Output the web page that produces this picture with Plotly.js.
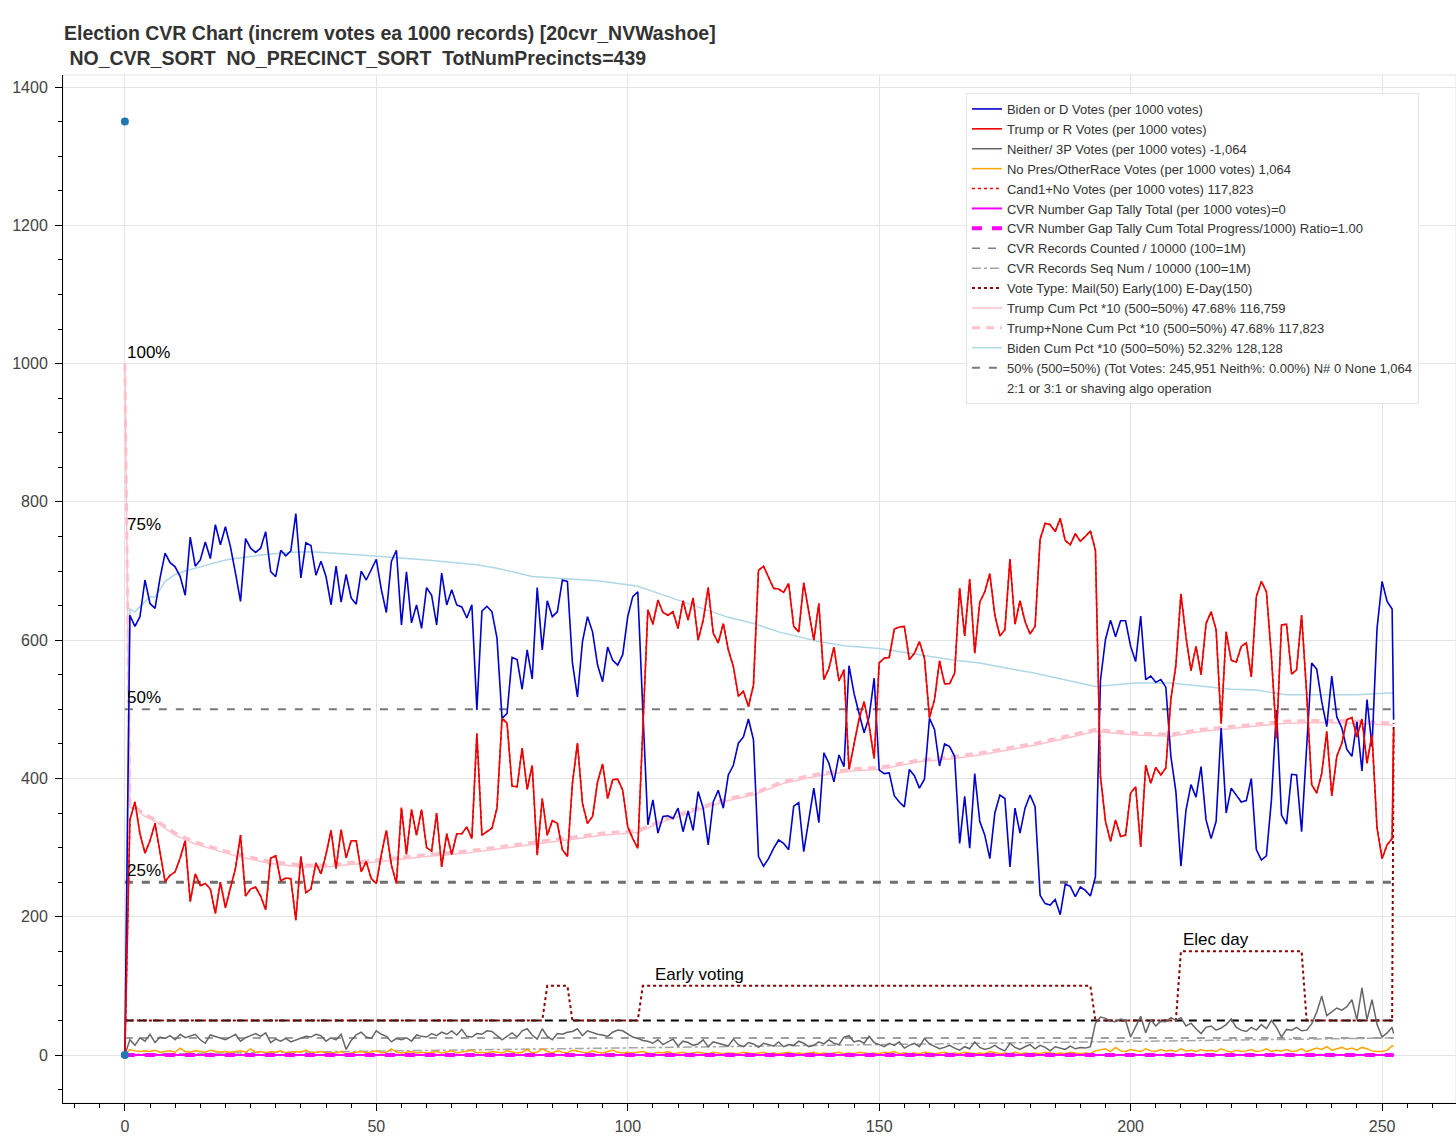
<!DOCTYPE html>
<html>
<head>
<meta charset="utf-8">
<script src="https://cdn.plot.ly/plotly-3.0.1.min.js"></script>
<style>
  html, body { margin: 0; padding: 0; background: #fff; }
  #chart { width: 1456px; height: 1139px; }
</style>
</head>
<body>
<div id="chart"></div>
<script>
// chunk index (one point per 1000 records); the last chunk is a partial one
const chunkIdx = Array.from({ length: 253 }, (_, i) => i).concat([252.3]);

const bidenVotes = [
  0, 636, 620, 634, 687, 653, 646, 690, 726, 712,
  706, 692, 665, 749, 707, 716, 742, 718, 767, 738,
  764, 735, 697, 656, 747, 733, 727, 733, 757, 699,
  692, 730, 722, 729, 783, 690, 741, 737, 694, 714,
  692, 651, 707, 655, 695, 661, 652, 700, 687, 701,
  717, 673, 640, 714, 730, 622, 699, 625, 651, 617,
  676, 665, 622, 697, 651, 673, 651, 648, 632, 651,
  499, 642, 649, 641, 603, 487, 494, 575, 572, 529,
  586, 544, 676, 586, 657, 634, 641, 687, 685, 567,
  518, 598, 634, 612, 564, 540, 590, 571, 564, 579,
  634, 663, 670, 499, 333, 369, 321, 345, 346, 342,
  357, 323, 353, 325, 381, 357, 304, 366, 383, 357,
  405, 419, 451, 460, 486, 456, 287, 273, 284, 299,
  311, 306, 297, 360, 365, 294, 340, 386, 336, 437,
  422, 395, 434, 417, 563, 523, 494, 466, 489, 545,
  412, 407, 408, 375, 366, 359, 413, 404, 386, 399,
  487, 471, 418, 450, 446, 432, 306, 374, 299, 407,
  338, 318, 284, 350, 376, 371, 272, 357, 321, 357,
  376, 359, 231, 219, 217, 225, 203, 247, 244, 229,
  243, 238, 230, 258, 542, 601, 629, 605, 628, 628,
  591, 569, 635, 543, 548, 539, 543, 532, 432, 381,
  273, 354, 391, 373, 417, 340, 313, 338, 473, 350,
  386, 376, 366, 368, 400, 297, 282, 288, 369, 499,
  347, 334, 406, 405, 323, 445, 567, 558, 511, 475,
  548, 489, 473, 442, 432, 482, 411, 514, 446, 617,
  685, 656, 645, 485
];

const trumpVotes = [
  0, 340, 366, 320, 292, 310, 335, 290, 251, 260,
  265, 285, 310, 222, 262, 245, 248, 240, 205, 250,
  213, 242, 270, 318, 230, 240, 243, 230, 210, 285,
  288, 252, 256, 255, 195, 287, 235, 240, 278, 262,
  290, 325, 270, 326, 285, 310, 310, 265, 280, 255,
  248, 290, 325, 275, 248, 358, 290, 355, 318, 355,
  300, 295, 350, 272, 320, 290, 320, 320, 330, 313,
  465, 318, 323, 328, 357, 487, 480, 389, 388, 444,
  384, 419, 289, 371, 318, 339, 335, 297, 287, 393,
  451, 364, 335, 345, 395, 421, 371, 398, 399, 383,
  330, 313, 299, 480, 644, 623, 658, 640, 636, 641,
  617, 657, 629, 661, 600, 629, 676, 610, 596, 624,
  586, 562, 519, 526, 504, 535, 701, 707, 691, 675,
  674, 669, 682, 620, 612, 683, 641, 600, 653, 543,
  559, 590, 541, 557, 413, 451, 486, 511, 476, 429,
  567, 574, 575, 616, 619, 620, 572, 581, 598, 574,
  488, 514, 570, 537, 537, 552, 675, 606, 688, 581,
  655, 670, 696, 636, 606, 615, 717, 623, 657, 627,
  609, 620, 746, 769, 767, 757, 776, 744, 738, 754,
  743, 750, 758, 730, 403, 338, 309, 340, 316, 318,
  379, 388, 301, 419, 393, 416, 405, 415, 514, 564,
  667, 605, 556, 591, 550, 624, 641, 615, 479, 612,
  571, 568, 591, 596, 547, 663, 685, 670, 576, 458,
  622, 623, 551, 557, 636, 523, 391, 379, 407, 468,
  375, 432, 451, 485, 488, 460, 486, 422, 463, 328,
  284, 304, 313, 470
];

const neitherVotes = [
  0, 22, 14, 25, 20, 30, 18, 26, 24, 28,
  22, 30, 25, 28, 30, 22, 17, 29, 27, 24,
  22, 26, 30, 20, 25, 28, 31, 27, 32, 18,
  23, 20, 24, 19, 22, 25, 27, 26, 30, 28,
  20, 25, 22, 30, 8, 21, 29, 33, 26, 24,
  35, 30, 27, 19, 24, 22, 25, 20, 29, 27,
  26, 31, 28, 33, 30, 35, 29, 37, 27, 26,
  31, 30, 35, 34, 28, 22, 27, 32, 26, 35,
  38, 29, 23, 38, 27, 22, 31, 30, 33, 34,
  38, 28, 35, 32, 30, 29, 27, 33, 36, 35,
  30, 26, 24, 21, 20, 17, 22, 15, 19, 23,
  13, 20, 18, 14, 16, 22, 12, 19, 17, 15,
  13, 23, 15, 12, 18, 16, 11, 17, 15, 13,
  19, 12, 15, 14, 20, 17, 12, 14, 19, 16,
  22, 17, 15, 26, 28, 19, 21, 17, 27, 18,
  15, 12, 17, 14, 19, 10, 14, 17, 12, 24,
  16, 13, 9, 11, 14, 10, 7, 12, 9, 19,
  11, 8, 10, 14, 9, 6, 17, 11, 8, 12,
  15, 9, 14, 11, 6, 12, 10, 8, 13, 9,
  11, 10, 12, 46, 55, 53, 49, 48, 52, 50,
  26, 42, 56, 32, 51, 42, 49, 48, 54, 50,
  54, 42, 46, 38, 31, 40, 42, 36, 39, 44,
  52, 40, 36, 34, 40, 36, 44, 38, 50, 40,
  26, 37, 36, 40, 35, 36, 45, 62, 85, 57,
  62, 68, 65, 70, 80, 51, 97, 51, 80, 44,
  26, 32, 40, 31
];

const noPresVotes = [
  0, 8, 6, 5, 6, 5, 7, 4, 5, 6,
  4, 10, 5, 4, 6, 5, 4, 7, 5, 4,
  5, 4, 5, 6, 4, 9, 4, 5, 3, 5,
  4, 6, 3, 4, 5, 4, 7, 3, 4, 5,
  3, 4, 3, 5, 2, 3, 4, 5, 3, 4,
  6, 3, 4, 9, 4, 3, 4, 5, 3, 4,
  3, 4, 5, 3, 4, 6, 3, 4, 5, 7,
  3, 4, 3, 5, 4, 3, 6, 4, 3, 4,
  8, 3, 4, 9, 5, 3, 6, 4, 3, 7,
  5, 4, 3, 6, 4, 3, 5, 7, 4, 3,
  4, 3, 4, 5, 3, 2, 4, 3, 5, 2,
  3, 4, 2, 3, 4, 3, 2, 4, 3, 2,
  3, 3, 2, 4, 3, 2, 3, 4, 2, 3,
  2, 3, 4, 2, 3, 2, 3, 4, 2, 3,
  2, 3, 4, 2, 3, 2, 4, 3, 2, 3,
  2, 4, 3, 5, 2, 3, 2, 3, 2, 4,
  3, 2, 3, 4, 2, 3, 2, 4, 3, 2,
  3, 2, 5, 3, 2, 3, 2, 4, 2, 3,
  2, 3, 2, 4, 3, 2, 3, 2, 4, 3,
  2, 3, 2, 6, 7, 9, 5, 11, 6, 5,
  8, 7, 5, 9, 6, 5, 8, 6, 7, 5,
  9, 6, 7, 5, 8, 6, 7, 5, 9, 6,
  4, 7, 5, 6, 8, 5, 6, 9, 5, 7,
  6, 8, 5, 6, 9, 5, 7, 10, 8, 12,
  7, 9, 11, 8, 10, 7, 11, 9, 6, 5,
  5, 7, 13, 13
];

// vote type step line: Mail(50) Early(100) E-Day(150)
const voteTypeIdx = [0, 83, 84, 88, 89, 102, 103, 192, 193, 209, 210, 234, 235, 252, 252.3];
const voteTypeVals = [50, 50, 100, 100, 50, 50, 100, 100, 50, 50, 150, 150, 50, 50, 480];

// cumulative percentages *10
const bidenCumIdx = [0, 1, 2, 3, 5, 6, 8, 10, 12, 15, 18, 20, 22, 27, 33, 37, 47, 53, 60, 70,
  74, 81, 88, 94, 100, 102, 108, 115, 120, 125, 130, 138, 143, 150, 158, 165, 170, 181, 193, 201,
  208, 214, 220, 225, 231, 245, 252.3];
const bidenCumPct = [0, 645, 641, 648, 663, 662, 685, 695, 700, 706, 712, 716, 718, 723, 727, 728, 723, 720, 716, 709,
  704, 692, 689, 686, 680, 678, 663, 646, 633, 624, 612, 598, 592, 588, 579, 571, 567, 552, 533, 538,
  538, 533, 529, 528, 521, 521, 524];

const trumpCumIdx = [0, 1, 2, 4, 6, 10, 14, 19, 22, 27, 29, 35, 40, 47, 53, 60, 68, 75, 81, 88,
  95, 102, 108, 115, 120, 125, 131, 138, 145, 150, 158, 165, 170, 181, 193, 201, 208, 214, 220, 225,
  231, 238, 245, 252.3];
const trumpCumPct = [1000, 358, 356, 345, 338, 318, 305, 294, 288, 280, 277, 272, 272, 277, 282, 287, 292, 299, 305, 311,
  318, 322, 340, 357, 368, 376, 393, 404, 411, 413, 424, 429, 434, 448, 468, 463, 461, 468, 472, 476,
  480, 481, 480, 477];
const trumpNoneCumPct = [1000, 361, 359, 348, 341, 321, 308, 297, 291, 283, 280, 275, 275, 280, 285, 290, 295, 302, 308, 314,
  321, 325, 343, 360, 371, 379, 396, 407, 414, 416, 427, 432, 437, 451, 471, 466, 464, 471, 475, 479,
  483, 484, 483, 480];

// reference levels and record counters
const spanIdx = [0, 252.3];
const fiftyPctLevel = [500, 500];
const quarterLevel = [250, 250];
const mailLevel = [50, 50];
const recordsCounted = [24.6, 24.6];
const gapTally = [0, 0];
const seqNumIdx = [0, 100, 252.3];
const seqNumVals = [1, 10.5, 24.6];
const markerX = [0, 0];
const markerY = [1350, 0];

const pctLabels = ['100%', '75%', '50%', '25%'];
const pctLevels = [1000, 750, 500, 250];

function line(x, y, name, color, width, dash, rank, extra) {
  return Object.assign({
    x: x, y: y, name: name, type: 'scatter', mode: 'lines',
    line: { color: color, width: width, dash: dash || 'solid' },
    legendrank: rank, hoverinfo: 'skip'
  }, extra || {});
}

const traces = [
  line(spanIdx, quarterLevel, '25%', '#707070', 3, '8px,9px', 100, { showlegend: false }),
  line(spanIdx, fiftyPctLevel, '50% (500=50%) (Tot Votes: 245,951 Neith%: 0.00%) N# 0 None 1,064',
    '#7a7a7a', 2, '8px,9px', 14),
  line(spanIdx, mailLevel, 'mail', '#000000', 2, '8px,6px', 100, { showlegend: false }),
  line(spanIdx, recordsCounted, 'CVR Records Counted / 10000 (100=1M)', '#7f7f7f', 1.5, '8px,8px', 8),
  line(seqNumIdx, seqNumVals, 'CVR Records Seq Num / 10000 (100=1M)', '#a5a5a5', 1.5, 'dashdot', 9),
  line(voteTypeIdx, voteTypeVals, 'Vote Type: Mail(50) Early(100) E-Day(150)', '#8b0000', 2, 'dot', 10),
  line(chunkIdx, noPresVotes, 'No Pres/OtherRace Votes (per 1000 votes) 1,064', '#ffa500', 1.5, 'solid', 4),
  line(chunkIdx, neitherVotes, 'Neither/ 3P Votes (per 1000 votes) -1,064', '#666666', 1.5, 'solid', 3),
  line(spanIdx, gapTally, 'CVR Number Gap Tally Total (per 1000 votes)=0', '#ff00ff', 2, 'solid', 6),
  line(spanIdx, gapTally, 'CVR Number Gap Tally Cum Total Progress/1000) Ratio=1.00', '#ff00ff', 4, '10px,10px', 7),
  line(bidenCumIdx, bidenCumPct, 'Biden Cum Pct *10 (500=50%) 52.32% 128,128', '#add8e6', 1.5, 'solid', 13),
  line(trumpCumIdx, trumpCumPct, 'Trump Cum Pct *10 (500=50%) 47.68% 116,759', '#ffc0cb', 1.5, 'solid', 11),
  line(trumpCumIdx, trumpNoneCumPct, 'Trump+None Cum Pct *10 (500=50%) 47.68% 117,823', '#ffc0cb', 3, '8px,6px', 12),
  line(chunkIdx, bidenVotes, 'Biden or D Votes (per 1000 votes)', '#0000cd', 1.6, 'solid', 1),
  line(chunkIdx, trumpVotes, 'Trump or R Votes (per 1000 votes)', '#ee0000', 1.6, 'solid', 2),
  // Cand1+No tracks the Trump line; drawn dotted on top of it
  line(chunkIdx, trumpVotes, 'Cand1+No Votes (per 1000 votes) 117,823', '#ee0000', 1.5, 'dot', 5),
  line([0], [-1000], '2:1 or 3:1 or shaving algo operation', 'rgba(0,0,0,0)', 0, 'solid', 15),
  {
    x: markerX, y: markerY, type: 'scatter', mode: 'markers', showlegend: false,
    marker: { color: '#1f77b4', size: 8 }, hoverinfo: 'skip'
  }
];

const annotations = pctLabels.map((label, i) => ({
  x: 0, y: pctLevels[i], xref: 'x', yref: 'y', text: label, showarrow: false,
  xanchor: 'left', yanchor: 'bottom', font: { size: 17, color: '#000' }
})).concat([
  { x: 105, y: 100, xref: 'x', yref: 'y', text: 'Early voting', showarrow: false,
    xanchor: 'left', yanchor: 'bottom', font: { size: 17, color: '#000' } },
  { x: 210, y: 150, xref: 'x', yref: 'y', text: 'Elec day', showarrow: false,
    xanchor: 'left', yanchor: 'bottom', font: { size: 17, color: '#000' } }
]);

const axisBase = {
  showgrid: true, gridcolor: '#e4e4e4', gridwidth: 1, zeroline: false,
  showline: true, linecolor: '#000', linewidth: 1,
  ticks: 'outside', ticklen: 7, tickcolor: '#000',
  tickfont: { size: 16, color: '#444' }
};

const layout = {
  width: 1456,
  height: 1139,
  paper_bgcolor: '#fff',
  plot_bgcolor: '#fff',
  font: { family: 'Liberation Sans, Arial, sans-serif', color: '#444', size: 16 },
  margin: { l: 63, r: 0, t: 75, b: 36 },
  title: {
    text: 'Election CVR Chart (increm votes ea 1000 records) [20cvr_NVWashoe]<br> NO_CVR_SORT  NO_PRECINCT_SORT  TotNumPrecincts=439',
    xref: 'container', yref: 'container', x: 64 / 1456, xanchor: 'left',
    y: 1 - 40 / 1139, yanchor: 'top',
    font: { size: 19.5, weight: 'bold', color: '#333' }
  },
  showlegend: true,
  legend: {
    x: 0.6482, xanchor: 'left', y: 0.9825, yanchor: 'top',
    bgcolor: '#fff', bordercolor: '#e4e4e4', borderwidth: 1,
    font: { size: 13, color: '#333' },
    tracegroupgap: 0, itemwidth: 30
  },
  xaxis: Object.assign({}, axisBase, {
    range: [-12.3, 264.7], tick0: 0, dtick: 50, ticklabelstandoff: 2,
    minor: { dtick: 5, ticks: 'outside', ticklen: 4, tickcolor: '#000', showgrid: false }
  }),
  yaxis: Object.assign({}, axisBase, {
    range: [-69.4, 1417.4], tick0: 0, dtick: 200, ticklabelstandoff: 4,
    minor: { dtick: 50, ticks: 'outside', ticklen: 4, tickcolor: '#000', showgrid: false }
  }),
  shapes: [{
    type: 'rect', xref: 'paper', yref: 'paper', x0: 0, x1: 1, y0: 0, y1: 1,
    line: { color: '#e4e4e4', width: 1 }, layer: 'below'
  }],
  annotations: annotations
};

Plotly.newPlot('chart', traces, layout, { displayModeBar: false, staticPlot: true });
</script>
</body>
</html>
